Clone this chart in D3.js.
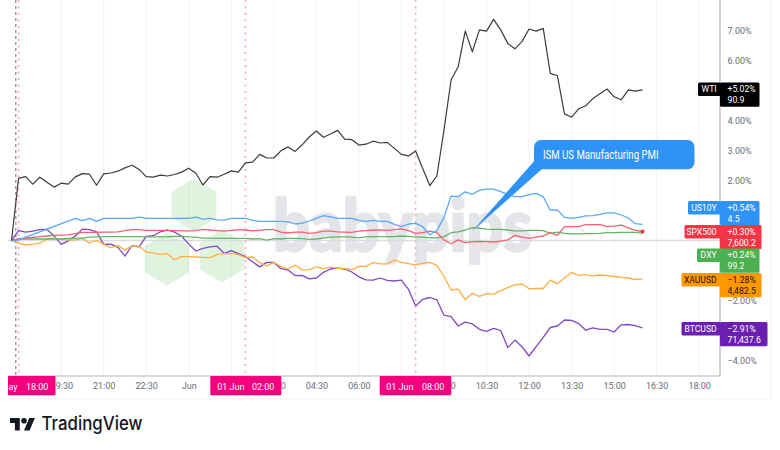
<!DOCTYPE html>
<html>
<head>
<meta charset="utf-8">
<script src="https://cdn.jsdelivr.net/npm/d3@7"></script>
<style>
html,body{margin:0;padding:0;background:#fff}
svg{display:block}
text{font-family:Roboto,"Open Sans",sans-serif}
</style>
</head>
<body>
<svg id="chart" width="780" height="450"></svg>
<script>
// Percent change per symbol, sampled every 15 minutes from 31 May 17:45.
const wti = [0,2.07,2.13,1.88,2.11,1.94,1.78,1.91,1.88,2.12,2.23,2.21,1.84,2.22,2.25,2.31,2.42,2.51,2.37,2.13,2.11,2.18,2.15,2.20,2.28,2.41,2.24,1.85,2.13,2.11,2.21,2.32,2.28,2.59,2.61,2.87,2.75,2.75,2.99,3.12,2.97,3.19,3.45,3.65,3.44,3.55,3.67,3.38,3.36,3.18,3.21,3.31,3.25,3.27,3.07,2.87,2.82,2.98,2.40,1.83,2.15,3.68,5.35,5.79,6.98,6.29,7.02,6.98,7.37,7.02,6.57,6.39,6.63,7.05,6.98,7.07,5.57,5.49,4.22,4.11,4.39,4.49,4.73,4.89,5.05,4.79,4.69,5.02,4.98,5.02];
const us10y = [0,0.02,null,null,null,null,null,null,null,0.74,0.66,0.74,0.64,0.74,0.74,0.74,0.74,0.74,0.78,0.74,0.74,0.74,0.74,0.74,0.74,0.74,0.78,0.71,0.74,0.69,0.68,0.74,0.74,0.74,0.67,0.64,0.64,0.64,0.64,0.62,0.55,0.58,0.65,0.74,0.83,0.79,0.74,0.74,0.74,0.67,0.64,0.67,0.64,0.64,0.54,0.46,0.55,0.57,0.46,0.19,0.33,0.77,1.48,1.46,1.62,1.54,1.67,1.71,1.71,1.63,1.54,1.46,1.46,1.53,1.57,1.46,1.01,1.02,0.77,0.74,0.77,0.82,0.83,0.87,0.92,0.92,0.85,0.75,0.56,0.54];
const spx500 = [0,0.06,0.08,0.10,0.13,0.15,0.17,0.18,0.19,0.23,0.27,0.27,0.27,0.28,0.28,0.29,0.33,0.36,0.36,0.34,0.34,0.34,0.34,0.33,0.32,0.32,0.33,0.37,0.35,0.33,0.31,0.34,0.36,0.35,0.32,0.34,0.36,0.36,0.28,0.25,0.28,0.28,0.24,0.26,0.31,0.31,0.29,0.28,0.27,0.31,0.33,0.35,0.35,0.34,0.36,0.39,0.33,0.24,0.26,0.31,0.26,0.02,-0.11,0.02,-0.07,-0.04,-0.03,-0.04,-0.05,-0.02,0.02,0.17,0.11,0.07,0.11,0.15,0.26,0.17,0.46,0.46,0.46,0.53,0.53,0.53,0.47,0.48,0.51,0.42,0.34,0.30];
const dxy = [0,0.04,0.05,0.05,0.05,0.05,0.05,0.05,0.07,0.08,0.08,0.11,0.12,0.13,0.13,0.13,0.13,0.13,0.13,0.12,0.12,0.12,0.12,0.14,0.14,0.12,0.11,0.08,0.08,0.07,0.07,0.07,0.07,0.07,0.05,0.06,0.01,0.06,0.05,0.07,0.07,0.06,0.04,0.05,0.08,0.11,0.12,0.12,0.11,0.09,0.12,0.13,0.13,0.13,0.13,0.15,0.14,0.11,0.11,0.09,0.09,0.13,0.26,0.29,0.35,0.43,0.41,0.38,0.37,0.37,0.35,0.32,0.32,0.34,0.34,0.33,0.24,0.28,0.24,0.22,0.22,0.23,0.23,0.24,0.26,0.26,0.27,0.27,0.27,0.24];
const xauusd = [0,-0.09,-0.15,-0.12,-0.09,0.04,0.09,0.04,0.02,0.02,0.06,-0.08,0,-0.13,-0.24,-0.17,-0.32,-0.18,-0.19,-0.38,-0.42,-0.46,-0.44,-0.64,-0.53,-0.54,-0.55,-0.56,-0.57,-0.47,-0.44,-0.44,-0.47,-0.57,-0.55,-0.73,-0.85,-0.73,-0.87,-0.95,-0.82,-0.98,-0.98,-0.88,-0.94,-0.89,-0.93,-0.93,-0.98,-0.86,-0.86,-0.74,-0.78,-0.78,-0.65,-0.73,-0.77,-0.81,-0.76,-0.73,-0.83,-1.20,-1.65,-1.62,-1.97,-1.76,-1.86,-1.77,-1.79,-1.67,-1.57,-1.48,-1.45,-1.61,-1.60,-1.60,-1.32,-1.44,-1.25,-1.07,-1.16,-1.14,-1.18,-1.15,-1.17,-1.20,-1.23,-1.25,-1.30,-1.28];
const btcusd = [0,0.33,0.28,0.31,0.36,0.37,0.16,-0.13,-0.01,0.15,0.38,0.36,0.29,-0.13,-0.12,-0.23,-0.52,-0.17,-0.21,0.14,0.16,0.29,0.35,0.28,0.14,-0.12,-0.35,-0.26,-0.21,-0.19,-0.43,-0.34,-0.44,-0.54,-0.71,-0.88,-0.73,-0.73,-0.94,-0.98,-1.17,-1.16,-1.28,-1.25,-1.06,-0.95,-0.92,-0.95,-1.05,-1.21,-1.31,-1.32,-1.25,-1.33,-1.35,-1.32,-1.63,-2.18,-1.96,-1.90,-1.98,-2.49,-2.54,-2.85,-2.72,-2.78,-2.96,-3.03,-2.93,-3.00,-3.57,-3.32,-3.54,-3.85,-3.54,-3.23,-2.90,-2.85,-2.65,-2.66,-2.77,-2.99,-2.91,-2.96,-2.96,-3.05,-2.81,-2.80,-2.84,-2.91];

const symbols = ["BTCUSD","XAUUSD","DXY","SPX500","US10Y","WTI"];
const changeLabels = {WTI:"+5.02%",US10Y:"+0.54%",SPX500:"+0.30%",DXY:"+0.24%",XAUUSD:"\u22121.28%",BTCUSD:"\u22122.91%"};
const priceLabels = {WTI:"90.9",US10Y:"4.5",SPX500:"7,600.2",DXY:"99.2",XAUUSD:"4,482.5",BTCUSD:"71,437.6"};
const seriesValues = {WTI:wti,US10Y:us10y,SPX500:spx500,DXY:dxy,XAUUSD:xauusd,BTCUSD:btcusd};
const percentTicks = [-4,-2,2,3,4,6,7];
// Labels on the time strip; the date tags sit over some of them and leave only a part showing.
const timeTickLabels = ["9:30","21:00","22:30","Jun","","0","04:30","06:00","","0","10:30","12:00","13:30","15:00","16:30","18:00"];
const calloutText = "ISM US Manufacturing PMI";

// Line colours and the stronger tag fills per symbol.
const lineColor = {WTI:"#3c3c3f",US10Y:"#58a8fb",SPX500:"#f4606e",DXY:"#62b666",XAUUSD:"#ffae42",BTCUSD:"#8348c6"};
const tagColor = {WTI:"#000000",US10Y:"#2f93f6",SPX500:"#f23645",DXY:"#4caf50",XAUUSD:"#ff9800",BTCUSD:"#6a1fb0"};
const tagText = {WTI:"#fff",US10Y:"#fff",SPX500:"#fff",DXY:"#fff",XAUUSD:"#1a1206",BTCUSD:"#fff"};
// Stacked tag geometry on the price scale: top edge, left of name tag, right of value box.
const tagLayout = {
  WTI:{top:82.5,left:698,right:759.5},
  US10Y:{top:201,left:688,right:759.5},
  SPX500:{top:225,left:684.5,right:761.5},
  DXY:{top:248.5,left:697,right:759.5},
  XAUUSD:{top:273,left:681.5,right:761.5},
  BTCUSD:{top:322,left:681.5,right:767.5}
};

const svg = d3.select("#chart");
const start = new Date(2026,4,31,17,45);
const stepTime = i => d3.timeMinute.offset(start, 15*i);
const axisX = 720, axisBottom = 376, stripBottom = 399, plotLeft = 8;

const x = d3.scaleTime().domain([start, stepTime(97)]).range([11.5, 699.2]);
const y = d3.scaleLinear().domain([-4.5,7.5]).range([375.5,15.5]);

const timeTicks = d3.range(7, 98, 6).map(stepTime);   // every 90 minutes from 19:30
const labelledTicks = timeTicks.filter((d,i)=>timeTickLabels[i]!=="");
const labelFor = d => timeTickLabels[timeTicks.findIndex(t=>+t===+d)];

// Time grid
svg.append("g").selectAll("line").data(timeTicks).join("line")
  .attr("x1",d=>x(d)).attr("x2",d=>x(d)).attr("y1",0).attr("y2",axisBottom)
  .attr("stroke","#f1f2f4").attr("stroke-width",1);
svg.append("line").attr("x1",771).attr("x2",771).attr("y1",0).attr("y2",stripBottom).attr("stroke","#f1f2f4");

// Babypips mark sits behind the series
const hexPoints = (cx,cy,r) => d3.range(6).map(k=>{
  const a = Math.PI/3*k;
  return [cx + r*Math.sin(a)*0.97, cy - r*Math.cos(a)];
}).join(" ");
const hexes = [[194,205],[167,259],[222,256]];
svg.append("g").selectAll("polygon").data(hexes).join("polygon")
  .attr("points",d=>hexPoints(d[0],d[1],26.5))
  .attr("fill","#7fcc73").attr("fill-opacity",0.24);
svg.append("text").attr("x",273).attr("y",251)
  .attr("textLength",259).attr("lengthAdjust","spacingAndGlyphs")
  .style("font-family","Lato,'Open Sans',sans-serif").style("font-weight",900).style("font-size","72px")
  .attr("fill","#e4e5e9").attr("stroke","#e4e5e9").attr("stroke-width",2.5).attr("stroke-linejoin","round").text("babypips");

// Zero line and event markers
svg.append("line").attr("x1",plotLeft).attr("x2",axisX).attr("y1",y(0)).attr("y2",y(0))
  .attr("stroke","#dcdde1").attr("stroke-width",1.4);
svg.append("line").attr("x1",15.8).attr("x2",15.8).attr("y1",0).attr("y2",axisBottom)
  .attr("stroke","#85878d").attr("stroke-width",1.2).attr("stroke-dasharray","3 3");
const eventTimes = [stepTime(1), stepTime(33), stepTime(57)];
svg.append("g").selectAll("line").data(eventTimes).join("line")
  .attr("x1",d=>x(d)).attr("x2",d=>x(d)).attr("y1",0).attr("y2",axisBottom)
  .attr("stroke","#ff9fce").attr("stroke-width",1.6).attr("stroke-dasharray","2 4.5");

// Series lines, joining across the gaps in the yield feed
const line = d3.line().x(d=>x(d.t)).y(d=>y(d.v));
symbols.forEach(name=>{
  const pts = seriesValues[name].map((v,i)=>({t:stepTime(i),v})).filter(d=>d.v!==null);
  svg.append("path").datum(pts).attr("d",line).attr("fill","none")
    .attr("stroke",lineColor[name]).attr("stroke-width",name==="WTI"?1.2:1.3).attr("stroke-linejoin","round");
});
svg.append("circle").attr("cx",x(stepTime(89))).attr("cy",y(spx500[89])).attr("r",2).attr("fill","#f23645");

// Axes
const xAxis = d3.axisBottom(x).tickValues(labelledTicks).tickFormat(labelFor).tickSize(0).tickPadding(5);
const xg = svg.append("g").attr("transform",`translate(0,${axisBottom})`).call(xAxis);
xg.select(".domain").remove();
xg.selectAll("text").attr("fill","#6a6d78").style("font-size","9px").style("font-family",null).attr("dy","0.85em");
// A partly covered label keeps the right edge it would have in full.
xg.selectAll("text").filter(d=>labelFor(d).length<5 && labelFor(d)!=="Jun")
  .attr("text-anchor","end").attr("dx",11.4);
svg.append("line").attr("x1",plotLeft).attr("x2",axisX).attr("y1",axisBottom).attr("y2",axisBottom).attr("stroke","#b4b6be").attr("stroke-width",1.2);
svg.append("line").attr("x1",plotLeft).attr("x2",771).attr("y1",stripBottom).attr("y2",stripBottom).attr("stroke","#eeeff1");
svg.append("line").attr("x1",axisX).attr("x2",axisX).attr("y1",0).attr("y2",axisBottom).attr("stroke","#b4b6be").attr("stroke-width",1.2);

const yAxis = d3.axisRight(y).tickValues(percentTicks)
  .tickFormat(d=>(d<0?"\u2212":"")+Math.abs(d).toFixed(2)+"%").tickSize(0).tickPadding(7.5);
const yg = svg.append("g").attr("transform",`translate(${axisX},0)`).call(yAxis);
yg.select(".domain").remove();
yg.selectAll("text").attr("fill","#6a6d78").style("font-size","9px");

// Crosshair date tags on the time strip
const pinkTags = [
  {x0:8,x1:55.5,date:"ay",dateEnd:17.5,time:"18:00",timeStart:26},
  {x0:210.3,x1:281.3,date:"01 Jun",dateEnd:244.5,time:"02:00",timeStart:252},
  {x0:379.7,x1:451.3,date:"01 Jun",dateEnd:413.5,time:"08:00",timeStart:422}
];
const pink = svg.append("g");
pinkTags.forEach(t=>{
  pink.append("rect").attr("x",t.x0).attr("y",axisBottom).attr("width",t.x1-t.x0).attr("height",19.3).attr("rx",1).attr("fill","#f5007f");
  pink.append("text").attr("x",t.dateEnd).attr("y",390.3).attr("text-anchor","end").attr("fill","#fff").style("font-size","9px").text(t.date);
  pink.append("text").attr("x",t.timeStart).attr("y",390.3).attr("fill","#fff").style("font-size","9px").text(t.time);
});

// Last-value tags
symbols.slice().reverse().forEach(name=>{
  const L = tagLayout[name], g = svg.append("g");
  g.append("rect").attr("x",L.left).attr("y",L.top).attr("width",axisX-L.left+1).attr("height",13.5).attr("rx",1.5).attr("fill",tagColor[name]);
  g.append("rect").attr("x",axisX).attr("y",L.top).attr("width",L.right-axisX).attr("height",24.3).attr("rx",1.5).attr("fill",tagColor[name]);
  g.append("text").attr("x",716.7).attr("y",L.top+9.9).attr("text-anchor","end").attr("fill",tagText[name]).style("font-size","8.6px").text(name);
  g.append("text").attr("x",727.5).attr("y",L.top+9.9).attr("fill",tagText[name]).style("font-size","8.7px").text(changeLabels[name]);
  g.append("text").attr("x",727.5).attr("y",L.top+20.6).attr("fill",tagText[name]).style("font-size","8.7px").text(priceLabels[name]);
});

// Callout pointing at the data release
const calloutTipTime = stepTime(65), calloutTipValue = 0.32;
const tipX = x(calloutTipTime), tipY = y(calloutTipValue);
const callout = svg.append("g");
callout.append("path")
  .attr("d",`M534.3,161 L${tipX},${tipY} L542,169 Z`).attr("fill","#2f93f6");
callout.append("rect").attr("x",534).attr("y",140).attr("width",160.5).attr("height",29.3).attr("rx",7).attr("fill","#2f93f6");
callout.append("text").attr("x",543).attr("y",158.5).attr("fill","#fff").style("font-size","12px")
  .attr("textLength",115.5).attr("lengthAdjust","spacingAndGlyphs").text(calloutText);

// TradingView wordmark
const brand = svg.append("g").attr("transform","translate(10,416.6) scale(0.7)");
brand.append("path").attr("d","M14 20H7V9H0V2h14v18zM28 20h-8l7.5-18h8L28 20z").attr("fill","#131722");
brand.append("circle").attr("cx",20).attr("cy",6).attr("r",4).attr("fill","#131722");
svg.append("text").attr("x",41.5).attr("y",430).attr("fill","#131722")
  .style("font-family","Inter,'Open Sans',sans-serif").style("font-weight",500).style("font-size","18.5px")
  .attr("textLength",101).attr("lengthAdjust","spacingAndGlyphs").text("TradingView");
</script>
</body>
</html>
